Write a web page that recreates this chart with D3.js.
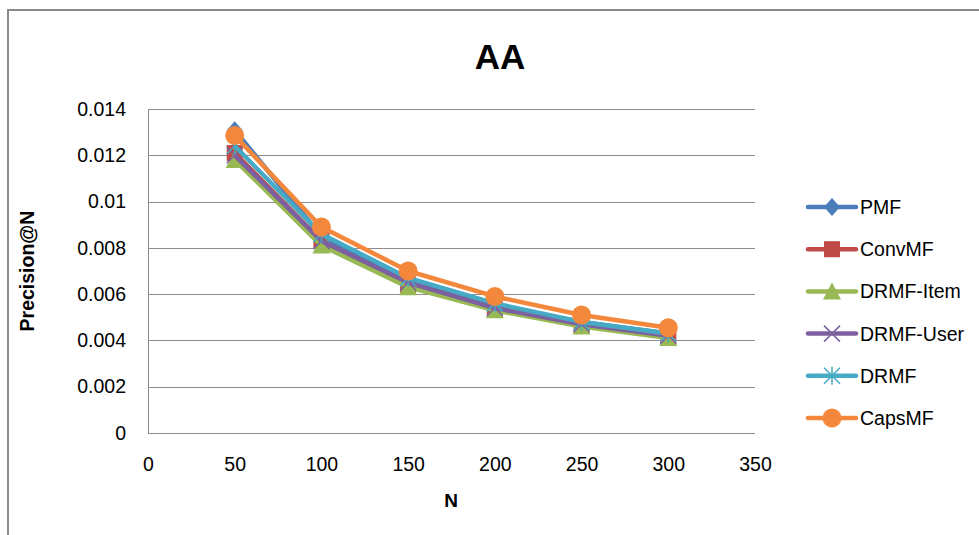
<!DOCTYPE html>
<html><head><meta charset="utf-8">
<script src="https://cdn.jsdelivr.net/npm/d3@7"></script>
<style>body{margin:0;background:#fff;}svg{display:block;}</style>
</head><body>
<script>
const categories = [50, 100, 150, 200, 250, 300];
const seriesNames = ["PMF", "ConvMF", "DRMF-Item", "DRMF-User", "DRMF", "CapsMF"];
const PMF      = [0.01308, 0.0085, 0.0066, 0.0055, 0.0048, 0.0043];
const ConvMF   = [0.0121, 0.0083, 0.0064, 0.0054, 0.0047, 0.0042];
const DRMFItem = [0.0118, 0.0081, 0.0063, 0.0053, 0.0046, 0.0041];
const DRMFUser = [0.0120, 0.0083, 0.0065, 0.0054, 0.0047, 0.0042];
const DRMF     = [0.0124, 0.0086, 0.0067, 0.0056, 0.0048, 0.0043];
const CapsMF   = [0.01285, 0.0089, 0.0070, 0.0059, 0.0051, 0.00455];
const xTicks = [0, 50, 100, 150, 200, 250, 300, 350];
const yTicks = [0, 0.002, 0.004, 0.006, 0.008, 0.01, 0.012, 0.014];
const colors = ["#4A7EBB", "#BE4B48", "#98B954", "#7D60A0", "#46AAC5", "#F3883C"];
const markers = ["diamond", "square", "triangle", "x", "star", "circle"];
const allValues = [PMF, ConvMF, DRMFItem, DRMFUser, DRMF, CapsMF];

const W = 979, H = 535;
const svg = d3.select("body").append("svg").attr("width", W).attr("height", H);
const font = "'Liberation Sans', Arial, sans-serif";

// frame
svg.append("rect").attr("x", 8).attr("y", 10).attr("width", W + 10).attr("height", H + 10)
  .attr("fill", "none").attr("stroke", "#8a8a8a").attr("stroke-width", 2);

const x = d3.scaleLinear().domain([0, 350]).range([148, 755]);
const y = d3.scaleLinear().domain([0, 0.014]).range([433, 109]);

// gridlines
svg.append("g").selectAll("line").data(yTicks).join("line")
  .attr("x1", x(0)).attr("x2", x(350))
  .attr("y1", d => Math.round(y(d)) + 0.5).attr("y2", d => Math.round(y(d)) + 0.5)
  .attr("stroke", "#8c8c8c").attr("stroke-width", 1);

// y axis line
svg.append("line").attr("x1", x(0) + 0.5).attr("x2", x(0) + 0.5)
  .attr("y1", y(0.014)).attr("y2", y(0)).attr("stroke", "#8c8c8c");

// axes via d3
const yAxis = d3.axisLeft(y).tickValues(yTicks).tickSize(0).tickPadding(22)
  .tickFormat(d => d === 0 ? "0" : String(+d.toFixed(3)));
const gy = svg.append("g").attr("transform", `translate(${x(0)},0)`).call(yAxis);
gy.select(".domain").remove();
gy.selectAll("text").attr("font-family", font).attr("font-size", 19.5).attr("fill", "#000");

const xAxis = d3.axisBottom(x).tickValues(xTicks).tickSize(0).tickPadding(24).tickFormat(d3.format("d"));
const gx = svg.append("g").attr("transform", `translate(0,${y(0)})`).call(xAxis);
gx.select(".domain").remove();
gx.selectAll("text").attr("font-family", font).attr("font-size", 19.5).attr("fill", "#000");

// titles
svg.append("text").attr("x", 500).attr("y", 69).attr("text-anchor", "middle")
  .attr("font-family", font).attr("font-weight", "bold").attr("font-size", 35).text("AA");
svg.append("text").attr("x", 451).attr("y", 507).attr("text-anchor", "middle")
  .attr("font-family", font).attr("font-weight", "bold").attr("font-size", 19).text("N");
svg.append("text").attr("transform", "translate(34,271) rotate(-90)").attr("text-anchor", "middle")
  .attr("font-family", font).attr("font-weight", "bold").attr("font-size", 19.5).text("Precision@N");

function drawMarker(g, type, cx, cy, color) {
  if (type === "diamond") {
    g.append("path").attr("d", `M${cx},${cy - 9}L${cx + 8},${cy}L${cx},${cy + 9}L${cx - 8},${cy}Z`)
      .attr("fill", color);
  } else if (type === "square") {
    g.append("rect").attr("x", cx - 8).attr("y", cy - 8).attr("width", 16).attr("height", 16).attr("fill", color);
  } else if (type === "triangle") {
    g.append("path").attr("d", `M${cx},${cy - 9}L${cx + 9},${cy + 8}L${cx - 9},${cy + 8}Z`).attr("fill", color);
  } else if (type === "x") {
    g.append("path").attr("d", `M${cx - 8},${cy - 8}L${cx + 8},${cy + 8}M${cx - 8},${cy + 8}L${cx + 8},${cy - 8}`)
      .attr("stroke", color).attr("stroke-width", 1.5);
  } else if (type === "star") {
    g.append("path").attr("d", `M${cx - 8},${cy - 8}L${cx + 8},${cy + 8}M${cx - 8},${cy + 8}L${cx + 8},${cy - 8}M${cx},${cy - 9}L${cx},${cy + 9}`)
      .attr("stroke", color).attr("stroke-width", 1.5);
  } else if (type === "circle") {
    g.append("circle").attr("cx", cx).attr("cy", cy).attr("r", 9.5).attr("fill", color);
  }
}

const line = d3.line().x((d, i) => x(categories[i])).y(d => y(d));
allValues.forEach((vals, si) => {
  const g = svg.append("g");
  g.append("path").attr("d", line(vals)).attr("fill", "none")
    .attr("stroke", colors[si]).attr("stroke-width", 4.5).attr("stroke-linejoin", "round");
  vals.forEach((v, i) => drawMarker(g, markers[si], x(categories[i]), y(v), colors[si]));
});

// legend
const legY = d3.scalePoint().domain(seriesNames).range([207, 418]);
seriesNames.forEach((name, si) => {
  const g = svg.append("g");
  const ly = legY(name);
  g.append("line").attr("x1", 808).attr("x2", 856).attr("y1", ly).attr("y2", ly)
    .attr("stroke", colors[si]).attr("stroke-width", 4.5).attr("stroke-linecap", "round");
  drawMarker(g, markers[si], 832, ly, colors[si]);
  g.append("text").attr("x", 860).attr("y", ly + 7).attr("font-family", font)
    .attr("font-size", 19.5).attr("fill", "#000").text(name);
});
</script>
</body></html>
